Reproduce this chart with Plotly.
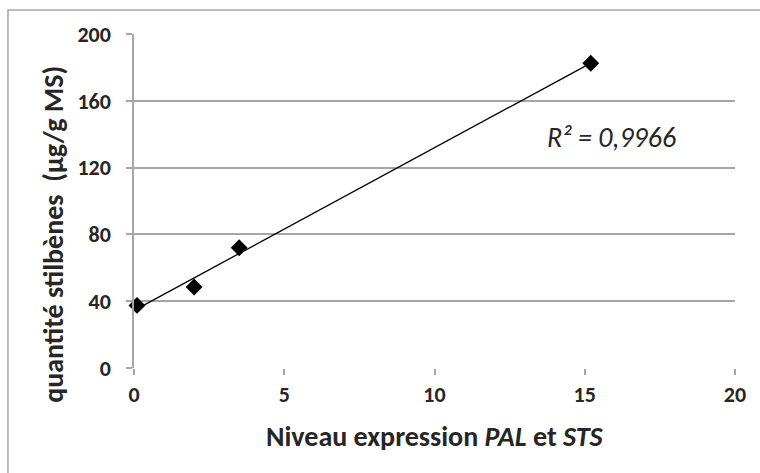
import numpy as np
import plotly.graph_objects as go

# Expression level vs. stilbene content
expression = [0.1, 2.0, 3.5, 15.2]
stilbenes = [37.5, 48.5, 72.0, 182.5]
r2_label = "R² = 0,9966"
x_ticks = [0, 5, 10, 15, 20]
y_ticks = [0, 40, 80, 120, 160, 200]

FONT = "Carlito, Lato, 'Liberation Sans Narrow', sans-serif"
TEXT = "#262626"
GRID = "#a6a6a6"

# Linear trend line over the data range
slope, intercept = np.polyfit(expression, stilbenes, 1)
trend_x = [min(expression), max(expression)]
trend_y = [slope * v + intercept for v in trend_x]

fig = go.Figure()
fig.add_trace(go.Scatter(
    x=trend_x, y=trend_y, mode="lines",
    line=dict(color="black", width=1.3), hoverinfo="skip", showlegend=False,
))
fig.add_trace(go.Scatter(
    x=expression, y=stilbenes, mode="markers",
    marker=dict(symbol="diamond", size=13, color="black", line=dict(width=0)),
    showlegend=False, cliponaxis=False,
))

fig.update_layout(
    width=760, height=473,
    margin=dict(l=134, r=25, t=34, b=105),
    paper_bgcolor="white", plot_bgcolor="white",
    font=dict(family=FONT, color=TEXT),
    xaxis=dict(
        range=[0, 20], tickvals=x_ticks, showgrid=False, zeroline=False,
        showline=False, ticks="outside", ticklen=6, tickcolor=GRID, tickwidth=1.5,
        tickfont=dict(size=22, family=FONT, color=TEXT, weight="bold"),
        ticklabelstandoff=1,
    ),
    yaxis=dict(
        range=[0, 200], tickvals=y_ticks, showgrid=True, gridcolor=GRID, gridwidth=1.5,
        zeroline=False, showline=True, linecolor=GRID, linewidth=1.5,
        ticks="outside", ticklen=6, tickcolor=GRID, tickwidth=1.5,
        tickfont=dict(size=22, family=FONT, color=TEXT, weight="bold"),
        ticklabelstandoff=11,
    ),
    shapes=[
        # outer chart frame
        dict(type="rect", xref="paper", yref="paper",
             x0=-0.2097, x1=1.2, y0=-0.5, y1=1.0719,
             line=dict(color=GRID, width=1.5), layer="below"),
    ],
    annotations=[
        dict(text="<b>Niveau expression <i>PAL</i> et <i>STS</i></b>",
             xref="paper", yref="paper", x=0.5, y=-0.205, yanchor="middle",
             showarrow=False, font=dict(size=28, family=FONT, color=TEXT)),
        dict(text="<b>quantité stilbènes &nbsp;(µg/g MS)</b>",
             xref="paper", yref="paper", x=-0.134, y=0.4, textangle=-90,
             xanchor="center", yanchor="middle",
             showarrow=False, font=dict(size=28, family=FONT, color=TEXT)),
        dict(text=f"<i>{r2_label}</i>", xref="x", yref="y",
             x=15.89, y=138, showarrow=False,
             font=dict(size=28, family=FONT, color=TEXT)),
    ],
)

fig.write_html("out.html")
